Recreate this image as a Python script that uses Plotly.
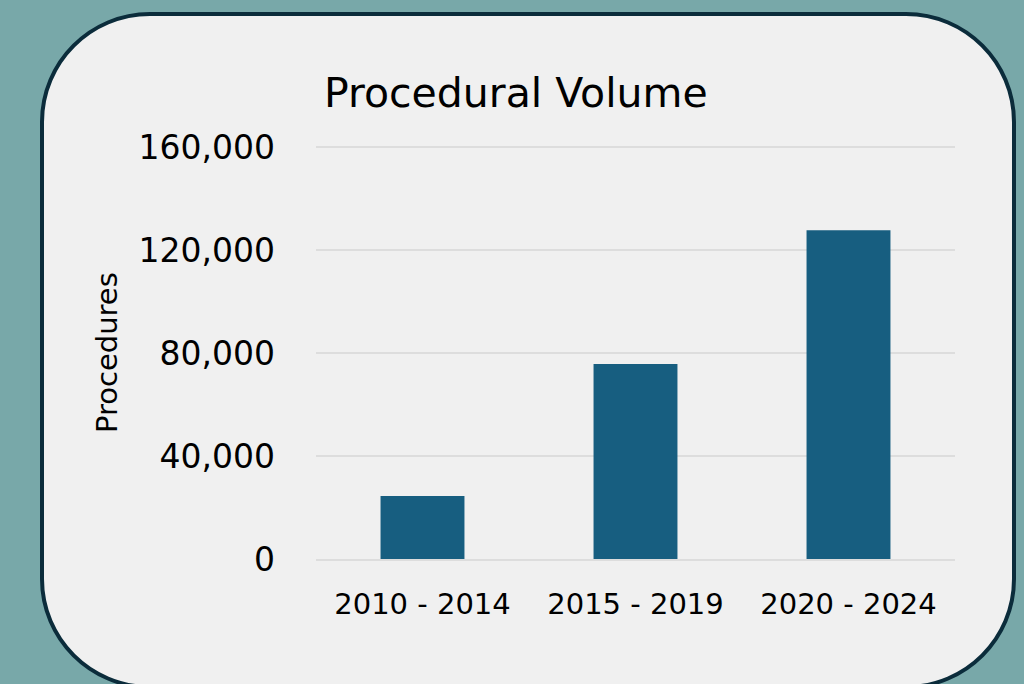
import plotly.graph_objects as go

categories = ["2010 - 2014", "2015 - 2019", "2020 - 2024"]
procedures = [24500, 75700, 127700]
y_ticks = [0, 40000, 80000, 120000, 160000]
y_tick_labels = ["0", "40,000", "80,000", "120,000", "160,000"]

W, H = 1024, 684
L, R, T, B = 316, 69, 146, 125
PW, PH = W - L - R, H - T - B

def px(x):
    return (x - L) / PW

def py(y):
    return (H - B - y) / PH

# rounded panel in pixel space -> paper coords
x0, x1, y0, y1, rad = 42, 1014, 14, 687, 108
k = 0.5523 * rad
def P(x, y):
    return f"{px(x):.5f},{py(y):.5f}"
path = (
    f"M {P(x0 + rad, y0)} L {P(x1 - rad, y0)} "
    f"C {P(x1 - rad + k, y0)} {P(x1, y0 + rad - k)} {P(x1, y0 + rad)} "
    f"L {P(x1, y1 - rad)} "
    f"C {P(x1, y1 - rad + k)} {P(x1 - rad + k, y1)} {P(x1 - rad, y1)} "
    f"L {P(x0 + rad, y1)} "
    f"C {P(x0 + rad - k, y1)} {P(x0, y1 - rad + k)} {P(x0, y1 - rad)} "
    f"L {P(x0, y0 + rad)} "
    f"C {P(x0, y0 + rad - k)} {P(x0 + rad - k, y0)} {P(x0 + rad, y0)} Z"
)

font = "DejaVu Sans"

fig = go.Figure(
    go.Bar(x=categories, y=procedures, marker=dict(color="#175e80", line=dict(width=0)))
)

fig.update_layout(
    width=W,
    height=H,
    margin=dict(l=L, r=R, t=T, b=B),
    paper_bgcolor="#78a8a9",
    plot_bgcolor="rgba(0,0,0,0)",
    bargap=0.606,
    showlegend=False,
    font=dict(family=font, color="#000000"),
    shapes=[
        dict(
            type="path",
            path=path,
            xref="paper",
            yref="paper",
            fillcolor="#f0f0f0",
            line=dict(color="#0b2c3b", width=4),
            layer="below",
        )
    ],
    annotations=[
        dict(
            text="Procedural Volume",
            xref="paper",
            yref="paper",
            x=px(516),
            y=py(93),
            xanchor="center",
            yanchor="middle",
            showarrow=False,
            font=dict(family=font, size=41, color="#000000"),
        ),
        dict(
            text="Procedures",
            xref="paper",
            yref="paper",
            x=px(107),
            y=py(353),
            xanchor="center",
            yanchor="middle",
            textangle=-90,
            showarrow=False,
            font=dict(family=font, size=29, color="#000000"),
        ),
    ],
)

fig.update_yaxes(
    range=[0, 160400],
    tickvals=y_ticks,
    ticktext=y_tick_labels,
    showgrid=True,
    gridcolor="#dddddd",
    gridwidth=1.5,
    zeroline=False,
    showline=False,
    ticks="",
    ticklabelstandoff=40,
    tickfont=dict(family=font, size=33, color="#000000"),
)
fig.update_xaxes(
    showgrid=False,
    showline=True,
    linecolor="#dddddd",
    linewidth=1.5,
    ticks="",
    ticklabelstandoff=18,
    tickfont=dict(family=font, size=29, color="#000000"),
)

fig.write_html(
    "out.html",
    config={"displayModeBar": False},
    post_script="document.body.style.margin='0';document.body.style.overflow='hidden';",
)
